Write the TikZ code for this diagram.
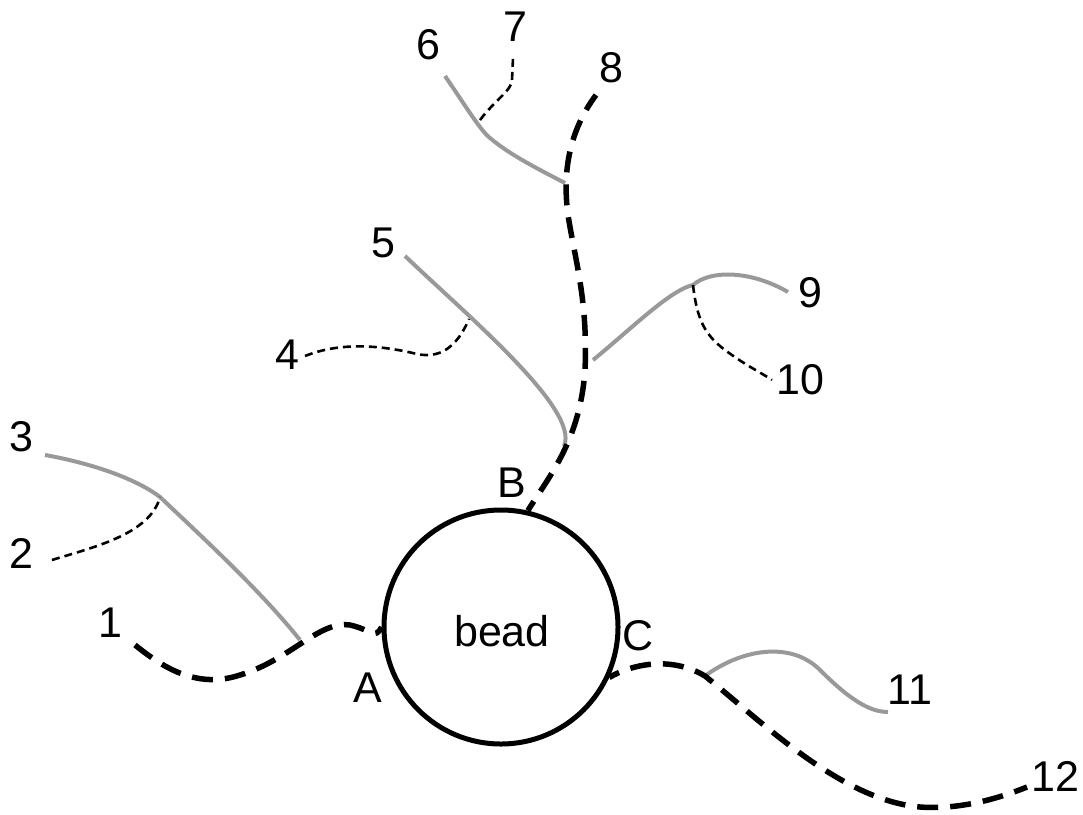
\documentclass[tikz,border=0pt]{standalone}
\usepackage{fontspec}
\setmainfont{Liberation Sans}
\begin{document}
\begin{tikzpicture}[x=1pt,y=-1pt,
  lbl/.style={font=\fontsize{43}{47}\selectfont, inner sep=0pt},
  mainline/.style={line width=5.5pt, dash pattern=on 21pt off 12pt},
  sideline/.style={line width=4pt, draw=black!40},
  thinline/.style={line width=2.6pt, dash pattern=on 8pt off 5pt}]
\useasboundingbox (0,0) rectangle (1083,814);
% bead
\node[circle, draw, line width=5pt, minimum size=234pt, inner sep=0pt] (bead) at (501,627) {};
\node[lbl] (beadtxt) at (502,631) {bead};
% labels
\node[lbl] (l1) at (110,623) {1};
\node[lbl] (l2) at (21,553) {2};
\node[lbl] (l3) at (21,437) {3};
\node[lbl] (l4) at (287,355) {4};
\node[lbl] (l5) at (383,243) {5};
\node[lbl] (l6) at (428,45) {6};
\node[lbl] (l7) at (515,27) {7};
\node[lbl] (l8) at (611,68) {8};
\node[lbl] (l9) at (810,293) {9};
\node[lbl] (l10) at (800,380) {10};
\node[lbl] (l11) at (910,690) {11};
\node[lbl] (l12) at (1055,776) {12};
\node[lbl] (lA) at (368,688) {A};
\node[lbl] (lB) at (512,483) {B};
\node[lbl] (lC) at (638,636) {C};
% anchor points
\coordinate (A) at (bead.180);
\coordinate (B) at (bead.77);
\coordinate (C) at (bead.-25);
\coordinate (e1) at (135,645);
\coordinate (e2) at (52,560);
\coordinate (e3) at (45,455);
\coordinate (e4) at (305,356);
\coordinate (e5) at (405,256);
\coordinate (e6) at (445,76);
\coordinate (e7) at (513,58);
\coordinate (e8) at (596,95);
\coordinate (e9) at (788,292);
\coordinate (e10) at (772,380);
\coordinate (e11) at (888,712);
\coordinate (e12) at (1027,787);
\coordinate (j3) at (300,640);
\coordinate (j2) at (160,497);
\coordinate (j5) at (564,446);
\coordinate (j4) at (469,319);
\coordinate (j6) at (565,183);
\coordinate (j7) at (480,120);
\coordinate (j9) at (593,360);
\coordinate (j10) at (693,285);
\coordinate (j11) at (705,676);
% side (grey) lines
\draw[sideline] (e3) .. controls (90,463) and (135,478) .. (j2)
  .. controls (200,535) and (260,590) .. (j3);
\draw[sideline] (e5) .. controls (470,318) and (580,410) .. (j5);
\draw[sideline] (e6) .. controls (465,105) and (480,130) .. (490,138)
  .. controls (510,155) and (540,170) .. (j6);
\draw[sideline] (j9) .. controls (630,330) and (670,290) .. (j10)
  .. controls (710,270) and (750,270) .. (e9);
\draw[sideline] (j11) .. controls (740,650) and (790,640) .. (820,670)
  .. controls (850,700) and (870,712) .. (e11);
% thin dashed lines
\draw[thinline] (e2) .. controls (90,548) and (150,535) .. (j2);
\draw[thinline] (e4) .. controls (340,342) and (380,345) .. (417,354)
  .. controls (445,360) and (460,340) .. (j4);
\draw[thinline] (j7) .. controls (495,100) and (512,90) .. (512,80) -- (e7);
\draw[thinline] (j10) .. controls (697,320) and (705,335) .. (725,350)
  .. controls (745,365) and (760,372) .. (e10);
% main thick dashed lines
\draw[mainline] (e1) .. controls (160,665) and (195,690) .. (240,675)
  .. controls (290,660) and (320,620) .. (350,625)
  .. controls (372,630) and (375,640) .. (A);
\draw[mainline, dash phase=10pt] (B) .. controls (550,475) and (580,440) .. (585,370)
  .. controls (588,300) and (575,260) .. (568,215)
  .. controls (562,170) and (570,130) .. (e8);
\draw[mainline, dash phase=10pt] (C) .. controls (630,665) and (670,655) .. (j11)
  .. controls (760,720) and (840,800) .. (920,807)
  .. controls (960,810) and (1000,798) .. (e12);
\end{tikzpicture}
\end{document}
